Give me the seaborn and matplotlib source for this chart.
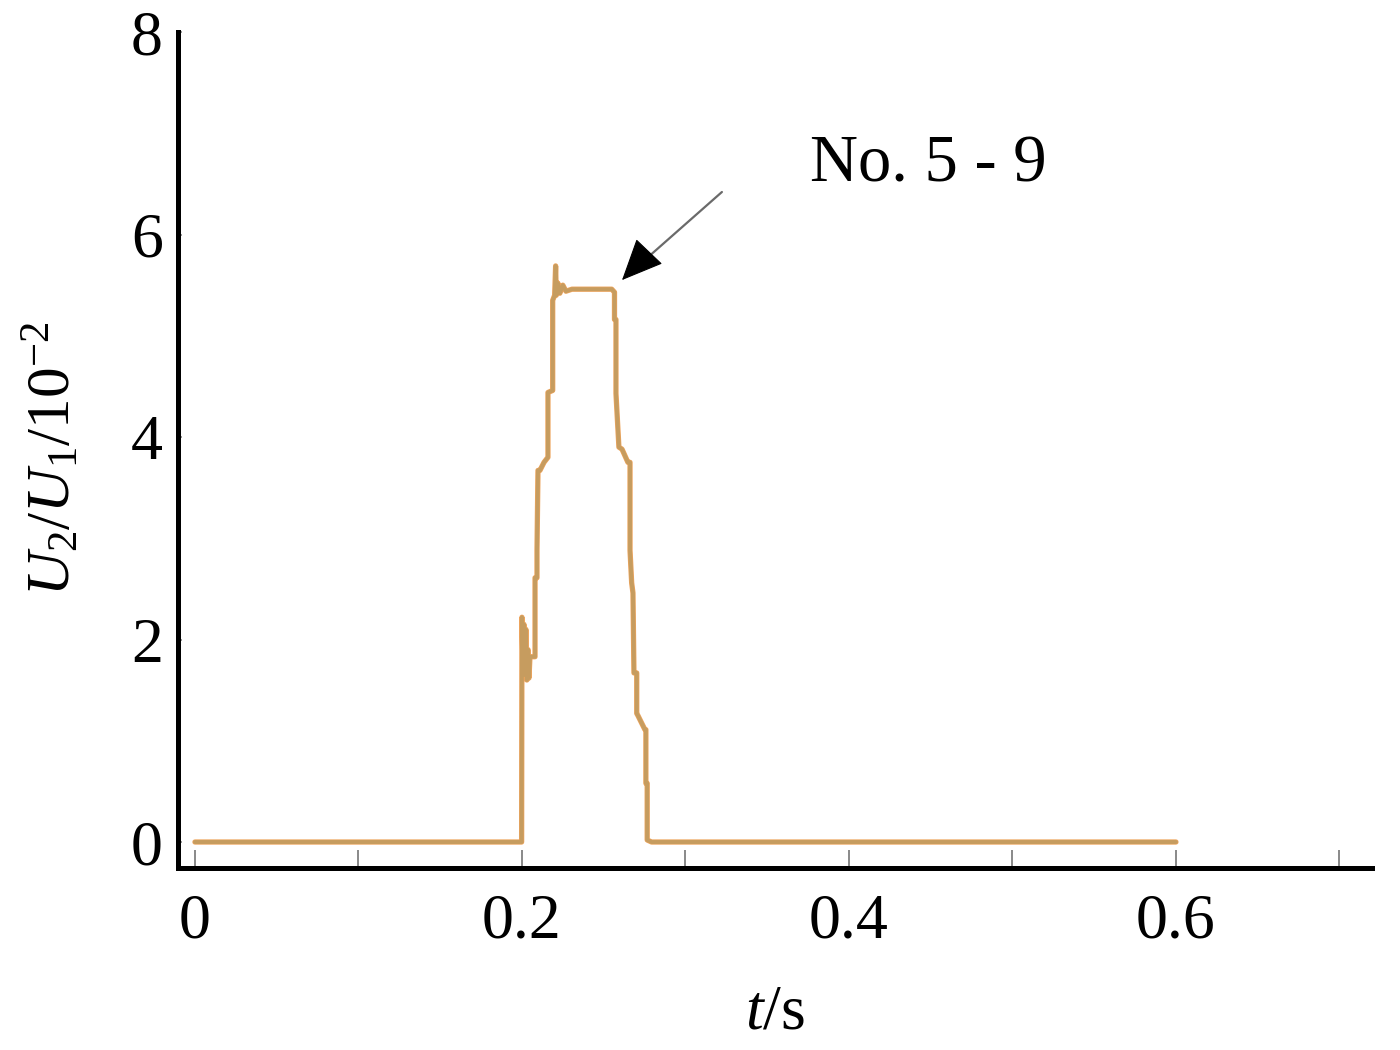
import matplotlib
matplotlib.use("Agg")
import matplotlib.pyplot as plt
import seaborn as sns
import numpy as np
import pandas as pd

# ---- data ----
t_s = [0.0, 0.1998, 0.2000, 0.2006, 0.2012, 0.2018, 0.2024, 0.2030, 0.2037, 0.2043,
       0.2049, 0.2080, 0.2080, 0.2092, 0.2092, 0.2098, 0.2110, 0.2135, 0.2159, 0.2159,
       0.2188, 0.2188, 0.2200, 0.2206, 0.2210, 0.2220, 0.2232, 0.2250, 0.2269, 0.2306,
       0.2549, 0.2566, 0.2566, 0.2575, 0.2575, 0.2593, 0.2612, 0.2648, 0.2661, 0.2661,
       0.2671, 0.2679, 0.2685, 0.2702, 0.2702, 0.2709, 0.2752, 0.2758, 0.2758, 0.2766,
       0.2766, 0.2793, 0.6000]
ratio = [0.0, 0.0, 2.22, 1.75, 2.15, 1.65, 2.10, 1.60, 1.90, 1.62,
         1.83, 1.83, 2.61, 2.61, 2.88, 3.67, 3.67, 3.75, 3.80, 4.44,
         4.46, 5.35, 5.40, 5.69, 5.40, 5.52, 5.42, 5.50, 5.44, 5.46,
         5.46, 5.43, 5.16, 5.16, 4.43, 3.90, 3.88, 3.75, 3.75, 2.88,
         2.56, 2.46, 1.67, 1.67, 1.27, 1.25, 1.11, 1.11, 0.58, 0.58,
         0.02, 0.0, 0.0]

x_ticks = [0.0, 0.1, 0.2, 0.3, 0.4, 0.5, 0.6, 0.7]
x_ticklabels = ["0", "", "0.2", "", "0.4", "", "0.6", ""]
y_ticks = [0, 2, 4, 6, 8]
y_ticklabels = ["0", "2", "4", "6", "8"]
annotation_text = "No. 5 - 9"
arrow_tail = (0.3223, 6.42)
arrow_head = (0.2612, 5.55)

df = pd.DataFrame({"t": t_s, "ratio": ratio})

sns.set_theme(style="white")
plt.rcParams["font.family"] = ["Liberation Serif", "DejaVu Serif"]
plt.rcParams["mathtext.fontset"] = "custom"
plt.rcParams["mathtext.rm"] = "Liberation Serif"
plt.rcParams["mathtext.it"] = "Liberation Serif:italic"
plt.rcParams["text.color"] = "black"
plt.rcParams["axes.labelcolor"] = "black"
plt.rcParams["xtick.labelcolor"] = "black"
plt.rcParams["ytick.labelcolor"] = "black"

fig = plt.figure(figsize=(14, 10.5), dpi=100)
ax = fig.add_axes([0.1271, 0.1733, 0.8529, 0.7962])

# underlying series (orange), then blended tan on top
sns.lineplot(data=df, x="t", y="ratio", ax=ax, color="#EDA45C", lw=3.8,
             sort=False, estimator=None)
sns.lineplot(data=df, x="t", y="ratio", ax=ax, color="#C29C60", lw=2.8,
             sort=False, estimator=None, alpha=0.9)

ax.set_xlim(-0.0104, 0.7199)
ax.set_ylim(-0.257, 8.0)

ax.set_xticks(x_ticks)
ax.set_xticklabels(x_ticklabels)
ax.set_yticks(y_ticks)
ax.set_yticklabels(y_ticklabels)

ax.tick_params(axis="x", direction="in", length=13, width=1.3, color="#808080",
               labelsize=46, pad=18, bottom=True, labelcolor="black")
ax.tick_params(axis="y", direction="in", length=3, width=1.3, color="#909090",
               labelsize=46, pad=11, left=True, labelcolor="black")

for side in ["top", "right"]:
    ax.spines[side].set_visible(False)
for side in ["left", "bottom"]:
    ax.spines[side].set_linewidth(3.6)
    ax.spines[side].set_color("black")

ax.set_xlabel(r"$t$/s", fontsize=46, labelpad=24, color="black")
ax.set_ylabel(r"$U_2/U_1/10^{-2}$", fontsize=44, labelpad=30, color="black")
ax.yaxis.set_label_coords(-0.079, 0.49)

# annotation
ax.annotate("", xy=arrow_head, xytext=arrow_tail,
            arrowprops=dict(arrowstyle="-", color="#6a6a6a", lw=1.6,
                            shrinkA=0, shrinkB=8))
ax.annotate("", xy=arrow_head, xytext=(0.2612 + 0.0130, 5.55 + 0.22),
            arrowprops=dict(arrowstyle="-|>,head_length=0.9,head_width=0.4",
                            mutation_scale=30, color="black", lw=0.8,
                            shrinkA=0, shrinkB=0))
ax.text(0.3761, 6.52, annotation_text, fontsize=48, ha="left", va="baseline",
        color="black")

fig.savefig("out.png", dpi=100)
